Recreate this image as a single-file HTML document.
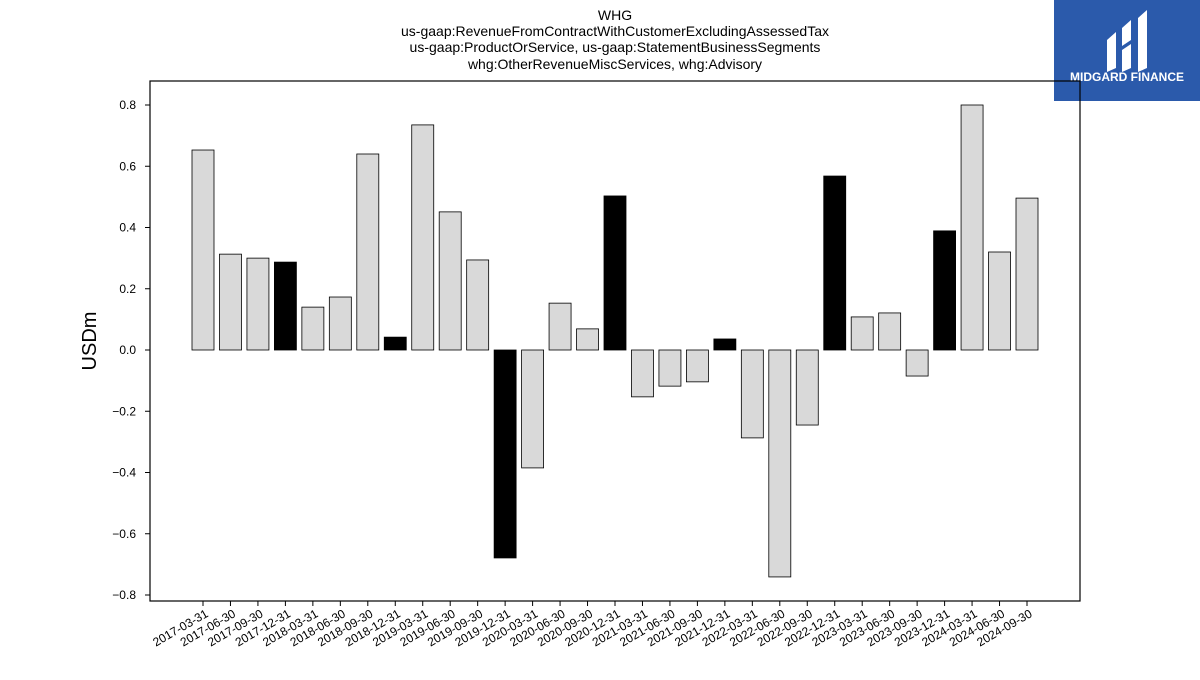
<!DOCTYPE html>
<html><head><meta charset="utf-8"><style>
body{margin:0;background:#fff;width:1200px;height:675px;overflow:hidden;font-family:"Liberation Sans","DejaVu Sans",sans-serif}
</style></head><body>
<svg id="chart" width="1200" height="675" xmlns="http://www.w3.org/2000/svg">
<g font-size="14" text-anchor="middle" fill="#000">
<text x="615" y="20">WHG</text>
<text x="615" y="36">us-gaap:RevenueFromContractWithCustomerExcludingAssessedTax</text>
<text x="615" y="52">us-gaap:ProductOrService, us-gaap:StatementBusinessSegments</text>
<text x="615" y="69">whg:OtherRevenueMiscServices, whg:Advisory</text>
</g>
<g>
<rect x="1054" y="0" width="146" height="101" fill="#2b5aab"/>
<path d="M1107 40 L1116 32 L1116 68 L1107 72 Z M1122 28 L1131 20 L1131 40 L1122 46 Z M1122 50 L1131 44 L1131 68 L1122 72 Z M1138 18 L1147 10 L1147 68 L1138 72 Z" fill="#fff"/>
<text x="1127" y="81" font-size="12" font-weight="bold" fill="#fff" text-anchor="middle">MIDGARD FINANCE</text>
</g>
<rect x="150" y="81" width="930" height="520" fill="none" stroke="#000" stroke-width="1.2"/>
<text transform="translate(96,341) rotate(-90)" font-size="20" text-anchor="middle">USDm</text>
<g id="yaxis"></g>
<g id="bars"></g>
<g id="xaxis"></g>
</svg>
<script>
const categories=["2017-03-31","2017-06-30","2017-09-30","2017-12-31","2018-03-31","2018-06-30","2018-09-30","2018-12-31","2019-03-31","2019-06-30","2019-09-30","2019-12-31","2020-03-31","2020-06-30","2020-09-30","2020-12-31","2021-03-31","2021-06-30","2021-09-30","2021-12-31","2022-03-31","2022-06-30","2022-09-30","2022-12-31","2023-03-31","2023-06-30","2023-09-30","2023-12-31","2024-03-31","2024-06-30","2024-09-30"];
const values=[0.653,0.313,0.300,0.287,0.140,0.173,0.640,0.042,0.735,0.451,0.294,-0.679,-0.385,0.153,0.069,0.503,-0.153,-0.118,-0.104,0.036,-0.287,-0.741,-0.245,0.568,0.108,0.121,-0.085,0.389,0.800,0.320,0.496];
const yTicks=[-0.8,-0.6,-0.4,-0.2,0,0.2,0.4,0.6,0.8];
const NS="http://www.w3.org/2000/svg";
const y=v=>350-v*306.25;
const x=i=>203+i*(1027-203)/(categories.length-1);
const yg=document.getElementById('yaxis'),bg=document.getElementById('bars'),xg=document.getElementById('xaxis');
function mk(t,a,p){const e=document.createElementNS(NS,t);for(const k in a)e.setAttribute(k,a[k]);p.appendChild(e);return e;}
yTicks.forEach(v=>{
const l=mk('line',{x1:145,x2:150,y1:y(v),y2:y(v),stroke:'#000'},yg);


const t=mk('text',{x:136,y:y(v)+4,'font-size':12,'text-anchor':'end'},yg);
t.textContent=(v<0?'\u2212':'')+Math.abs(v).toFixed(1);


});
categories.forEach((c,i)=>{
const v=values[i];const q4=c.endsWith('12-31');
const r=mk('rect',{x:x(i)-11,width:22,y:Math.min(y(v),y(0)),height:Math.abs(y(v)-y(0)),fill:q4?'#000':'#d9d9d9',stroke:'#000','stroke-width':0.8},bg);


const l=mk('line',{x1:x(i),x2:x(i),y1:601,y2:606,stroke:'#000'},xg);


const t=mk('text',{transform:`translate(${x(i)+6},616) rotate(-30)`,'font-size':12,'text-anchor':'end'},xg);
t.textContent=c;


});
</script>
</body></html>
